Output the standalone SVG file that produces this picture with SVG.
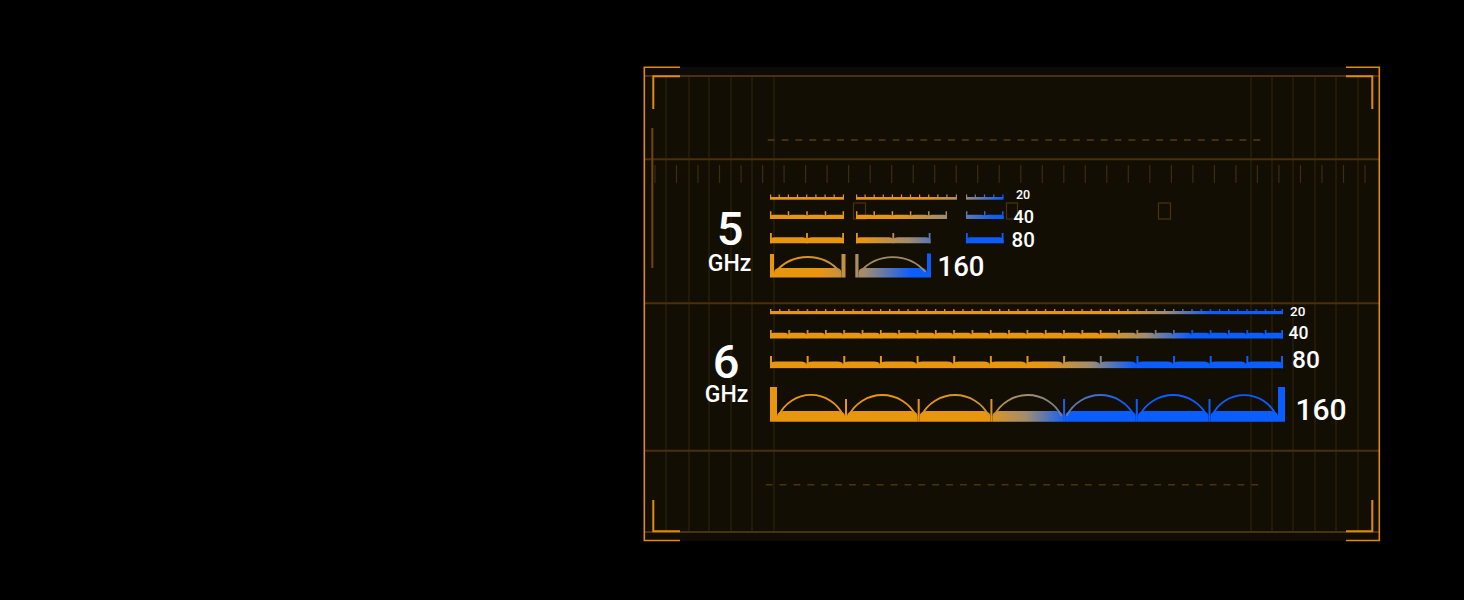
<svg xmlns="http://www.w3.org/2000/svg" width="1464" height="600" viewBox="0 0 1464 600">
<style>
.hl{stroke:#4a3109;stroke-width:2;fill:none}
.vl{stroke:#33240a;stroke-width:1;fill:none}
.br{stroke:#e08a0c;stroke-width:1.6;fill:none}
.dash{stroke:#5a3b0b;stroke-width:1.6;stroke-dasharray:6.9 6.975;fill:none}
.tk{stroke:#3e2c0c;stroke-width:1.2;fill:none}
.sq{stroke:#4e3309;stroke-width:1.2;fill:none}
.t{font-family:Roboto,"Liberation Sans",Arial,sans-serif;font-weight:500;fill:#ffffff}
.arc{fill:none;stroke-width:1.8}
</style>
<defs>
<linearGradient id="gb">
<stop offset="0" stop-color="#e9960f"/>
<stop offset="0.5" stop-color="#a08c70"/>
<stop offset="1" stop-color="#0a5dff"/>
</linearGradient>
<linearGradient id="g6_20" href="#gb" gradientUnits="userSpaceOnUse" x1="1120" y1="0" x2="1210" y2="0"/>
<linearGradient id="g6_40" href="#gb" gradientUnits="userSpaceOnUse" x1="1100" y1="0" x2="1190" y2="0"/>
<linearGradient id="g6_80" href="#gb" gradientUnits="userSpaceOnUse" x1="1045" y1="0" x2="1135" y2="0"/>
<linearGradient id="g6_160" href="#gb" gradientUnits="userSpaceOnUse" x1="985" y1="0" x2="1068" y2="0"/>
<linearGradient id="g6_160a" href="#gb" gradientUnits="userSpaceOnUse" x1="930" y1="0" x2="1130" y2="0"/>
<linearGradient id="g5_20" href="#gb" gradientUnits="userSpaceOnUse" x1="925" y1="0" x2="1003" y2="0"/>
<linearGradient id="g5_40" href="#gb" gradientUnits="userSpaceOnUse" x1="895" y1="0" x2="995" y2="0"/>
<linearGradient id="g5_80" href="#gb" gradientUnits="userSpaceOnUse" x1="862" y1="0" x2="955" y2="0"/>
<linearGradient id="g5_160" href="#gb" gradientUnits="userSpaceOnUse" x1="818" y1="0" x2="912" y2="0"/>
<linearGradient id="g5_160a" gradientUnits="userSpaceOnUse" x1="790" y1="0" x2="930" y2="0">
<stop offset="0" stop-color="#e9960f"/>
<stop offset="0.55" stop-color="#a58a5c"/>
<stop offset="1" stop-color="#9a8a70"/>
</linearGradient>
<pattern id="p6t20" patternUnits="userSpaceOnUse" x="770" y="0" width="9.1607" height="600">
<rect x="0" y="308.8" width="1.3" height="5.6" fill="#fff"/>
</pattern>
<pattern id="p6t40" patternUnits="userSpaceOnUse" x="770" y="0" width="18.3214" height="600">
<path d="M0 338.8V335.6Q0 332.8 3.5 332.8H14.8Q18.32 332.8 18.32 335.6V338.8Z" fill="#fff"/>
<rect x="0" y="330" width="1.7" height="8.8" fill="#fff"/>
</pattern>
<pattern id="p6t80" patternUnits="userSpaceOnUse" x="770" y="0" width="36.6429" height="600">
<path d="M0 368.5V365Q0 361.5 6 361.5H30.64Q36.64 361.5 36.64 365V368.5Z" fill="#fff"/>
<rect x="0" y="356" width="2" height="12.5" fill="#fff"/>
</pattern>
<mask id="m6_20" maskUnits="userSpaceOnUse" x="0" y="0" width="1464" height="600">
<rect x="770" y="311" width="513" height="3.4" fill="#fff"/>
<rect x="770" y="308.8" width="512" height="5.6" fill="url(#p6t20)"/>
<rect x="1281.7" y="308.8" width="1.3" height="5.6" fill="#fff"/>
</mask>
<mask id="m6_40" maskUnits="userSpaceOnUse" x="0" y="0" width="1464" height="600">
<rect x="770" y="330" width="513" height="8.8" fill="url(#p6t40)"/>
<rect x="1281.3" y="330" width="1.7" height="8.8" fill="#fff"/>
</mask>
<mask id="m6_80" maskUnits="userSpaceOnUse" x="0" y="0" width="1464" height="600">
<rect x="770" y="356" width="513" height="12.5" fill="url(#p6t80)"/>
<rect x="1281" y="356" width="2" height="12.5" fill="#fff"/>
</mask>
</defs>

<rect x="0" y="0" width="1464" height="600" fill="#000"/>

<g id="panel">
<rect x="644" y="67" width="736" height="474" fill="#130e04"/>
<rect x="644" y="67" width="736" height="9" fill="#0e0b06"/>
<rect x="644" y="532" width="736" height="9" fill="#100c05"/>
</g>

<g id="grid">
<path class="vl" d="M666 76V532M689 76V532M709 76V532M731 76V532M752 76V532M774 76V532M1251 76V532M1272 76V532M1293 76V532M1315 76V532M1336 76V532M1358 76V532"/>
<path class="hl" d="M644 76H1380M644 159.3H1380M644 303.3H1380M644 450.7H1380M644 532H1380"/>
<path class="dash" d="M767.7 140H1260.6"/>
<path class="dash" d="M765.7 484.7H1258.6" style="stroke:#4c320c"/>
<path class="tk" d="M655 165v18M676.5 165v18M698 165v18M719.5 165v18M741.1 165v18M762.6 165v18M784.1 165v18M805.6 165v18M827.1 165v18M848.6 165v18M870.2 165v18M891.7 165v18M913.2 165v18M934.7 165v18M956.2 165v18M977.7 165v18M999.2 165v18M1020.8 165v18M1042.3 165v18M1063.8 165v18M1085.3 165v18M1106.8 165v18M1128.3 165v18M1149.8 165v18M1171.4 165v18M1192.9 165v18M1214.4 165v18M1235.9 165v18M1257.4 165v18M1278.9 165v18M1300.5 165v18M1322 165v18M1343.5 165v18M1365 165v18"/>
<rect class="sq" x="853.5" y="203" width="12" height="16"/>
<rect class="sq" x="1006.5" y="203" width="11" height="16"/>
<rect class="sq" x="1158.5" y="203" width="12" height="16"/>
<path d="M652.3 128V268" stroke="#6e460c" stroke-width="2" fill="none"/>
</g>

<g id="frame">
<path class="br" d="M680 67.3H644.3V540.5H680"/>
<path class="br" d="M1346 67.3H1379.3V540.5H1346"/>
<path class="br" d="M653.3 109V76.3H680" style="stroke-width:2"/>
<path class="br" d="M653.3 500V531.3H680" style="stroke-width:2"/>
<path class="br" d="M1372.3 109V76.3H1346" style="stroke-width:2"/>
<path class="br" d="M1372.3 500V531.3H1346" style="stroke-width:2"/>
</g>

<g id="band-5ghz">
<text class="t" x="730" y="245.3" font-size="47" text-anchor="middle">5</text>
<text class="t" x="729.5" y="270.7" font-size="23" text-anchor="middle">GHz</text>
<g id="r5-20" fill="url(#g5_20)">
<rect x="770" y="197" width="74" height="2.7"/>
<rect x="856" y="197" width="101" height="2.7"/>
<rect x="966" y="197" width="37.5" height="2.7"/>
<path stroke="url(#g5_20)" stroke-width="1.2" fill="none" d="M770.6 194.6V198M779.2 194.6V198M788.4 194.6V198M797.5 194.6V198M806.7 194.6V198M815.9 194.6V198M825.1 194.6V198M834.2 194.6V198M843.4 194.6V198M856.6 194.6V198M865.1 194.6V198M874.2 194.6V198M883.3 194.6V198M892.4 194.6V198M901.5 194.6V198M910.5 194.6V198M919.6 194.6V198M928.7 194.6V198M937.8 194.6V198M946.9 194.6V198M956.4 194.6V198M966.6 194.6V198M975.3 194.6V198M984.5 194.6V198M993.8 194.6V198M1002.9 194.6V198"/>
<text class="t" x="1016" y="199" font-size="12.5">20</text>
</g>
<g id="r5-40" fill="url(#g5_40)">
<path d="M770 219V216.6Q770 214.7 773 214.7H785.5Q788.5 214.7 788.5 216.6V219ZM788.5 219V216.6Q788.5 214.7 791.5 214.7H804Q807 214.7 807 216.6V219ZM807 219V216.6Q807 214.7 810 214.7H822.5Q825.5 214.7 825.5 216.6V219ZM825.5 219V216.6Q825.5 214.7 828.5 214.7H841Q844 214.7 844 216.6V219Z"/>
<path d="M856 219V216.6Q856 214.7 859 214.7H871.2Q874.2 214.7 874.2 216.6V219ZM874.2 219V216.6Q874.2 214.7 877.2 214.7H889.4Q892.4 214.7 892.4 216.6V219ZM892.4 219V216.6Q892.4 214.7 895.4 214.7H907.6Q910.6 214.7 910.6 216.6V219ZM910.6 219V216.6Q910.6 214.7 913.6 214.7H925.8Q928.8 214.7 928.8 216.6V219ZM928.8 219V216.6Q928.8 214.7 931.8 214.7H944Q947 214.7 947 216.6V219Z"/>
<path d="M966 219V216.6Q966 214.7 969 214.7H981.75Q984.75 214.7 984.75 216.6V219ZM984.75 219V216.6Q984.75 214.7 987.75 214.7H1000.5Q1003.5 214.7 1003.5 216.6V219Z"/>
<path stroke="url(#g5_40)" stroke-width="1.5" fill="none" d="M770.7 211.3V219M788.5 211.3V219M807 211.3V219M825.5 211.3V219M843.3 211.3V219M856.7 211.3V219M874.2 211.3V219M892.4 211.3V219M910.6 211.3V219M928.8 211.3V219M946.3 211.3V219M966.7 211.3V219M984.75 211.3V219M1002.8 211.3V219"/>
<text class="t" x="1013.5" y="222.7" font-size="18">40</text>
</g>
<g id="r5-80" fill="url(#g5_80)">
<path d="M770 243.3V240.3Q770 237.3 775 237.3H802Q807 237.3 807 240.3V243.3ZM807 243.3V240.3Q807 237.3 812 237.3H839Q844 237.3 844 240.3V243.3Z"/>
<path d="M856 243.3V240.3Q856 237.3 861 237.3H888.3Q893.3 237.3 893.3 240.3V243.3ZM893.3 243.3V240.3Q893.3 237.3 898.3 237.3H925.5Q930.5 237.3 930.5 240.3V243.3Z"/>
<path d="M966 243.3V240.3Q966 237.3 971 237.3H998.5Q1003.5 237.3 1003.5 240.3V243.3Z"/>
<path stroke="url(#g5_80)" stroke-width="1.8" fill="none" d="M770.9 233V243.3M807 233V243.3M843.1 233V243.3M856.9 233V243.3M893.3 233V243.3M929.6 233V243.3M966.9 233V243.3M1002.6 233V243.3"/>
<text class="t" x="1011.5" y="246.7" font-size="20.5">80</text>
</g>
<g id="r5-160" fill="url(#g5_160)">
<rect x="770" y="254" width="4" height="23.5"/>
<rect x="841.5" y="254" width="4" height="23.5"/>
<path d="M774 277.5V273Q774 268 780 268H835.5Q841.5 268 841.5 273V277.5Z"/>
<rect x="855.3" y="254" width="3.2" height="23.5"/>
<rect x="927" y="253.5" width="4" height="24"/>
<path d="M858.5 277.5V273Q858.5 268 864.5 268H921Q927 268 927 273V277.5Z"/>
<path class="arc" stroke="url(#g5_160a)" d="M775.5 272A42.2 42.2 0 0 1 840 272M860 272A43.3 43.3 0 0 1 925.5 272"/>
<text class="t" x="937.5" y="275.5" font-size="27.5">160</text>
</g>
</g>

<g id="band-6ghz">
<text class="t" x="726" y="378" font-size="47" text-anchor="middle">6</text>
<text class="t" x="726.5" y="401.7" font-size="23" text-anchor="middle">GHz</text>
<g id="r6-20">
<rect x="770" y="308.8" width="513" height="5.6" fill="url(#g6_20)" mask="url(#m6_20)"/>
<text class="t" x="1290" y="316" font-size="13.5">20</text>
</g>
<g id="r6-40">
<rect x="770" y="330" width="513" height="8.8" fill="url(#g6_40)" mask="url(#m6_40)"/>
<text class="t" x="1288.5" y="339" font-size="17.5">40</text>
</g>
<g id="r6-80">
<rect x="770" y="356" width="513" height="12.5" fill="url(#g6_80)" mask="url(#m6_80)"/>
<text class="t" x="1292" y="368.3" font-size="24.5">80</text>
</g>
<g id="r6-160" fill="url(#g6_160)">
<rect x="770" y="387" width="7" height="34.7"/>
<rect x="1278" y="387" width="7" height="34.7"/>
<path d="M845 399h2v22.7h-2zM917.7 399h2v22.7h-2zM990.4 399h2v22.7h-2zM1063.1 399h2v22.7h-2zM1135.8 399h2v22.7h-2zM1208.5 399h2v22.7h-2z"/>
<path d="M777 421.7V416.5Q777 411 785 411H837Q845 411 845 416.5V421.7ZM847 421.7V416.5Q847 411 855 411H909.7Q917.7 411 917.7 416.5V421.7ZM919.7 421.7V416.5Q919.7 411 927.7 411H982.4Q990.4 411 990.4 416.5V421.7ZM992.4 421.7V416.5Q992.4 411 1000.4 411H1055.1Q1063.1 411 1063.1 416.5V421.7ZM1065.1 421.7V416.5Q1065.1 411 1073.1 411H1127.8Q1135.8 411 1135.8 416.5V421.7ZM1137.8 421.7V416.5Q1137.8 411 1145.8 411H1200.5Q1208.5 411 1208.5 416.5V421.7ZM1210.5 421.7V416.5Q1210.5 411 1218.5 411H1270Q1278 411 1278 416.5V421.7Z"/>
<path class="arc" stroke="url(#g6_160a)" d="M778.5 416A35.6 35.6 0 0 1 843.5 416M848.5 416A37.8 37.8 0 0 1 916.2 416M921.2 416A37.8 37.8 0 0 1 988.9 416M993.9 416A37.8 37.8 0 0 1 1061.6 416M1066.6 416A37.8 37.8 0 0 1 1134.3 416M1139.3 416A37.8 37.8 0 0 1 1207 416M1212 416A35.3 35.3 0 0 1 1276.5 416"/>
<text class="t" x="1295.5" y="419.8" font-size="30">160</text>
</g>
</g>
</svg>
